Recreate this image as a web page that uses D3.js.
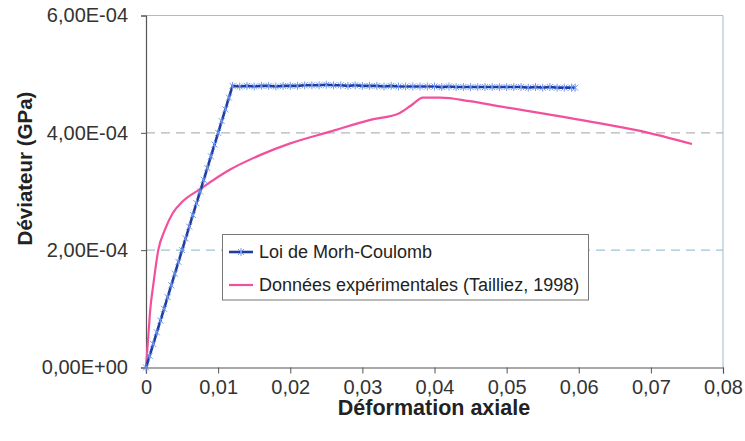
<!DOCTYPE html>
<html><head><meta charset="utf-8">
<script src="https://cdn.jsdelivr.net/npm/d3@7"></script>
<style>body{margin:0;background:#fff}svg{display:block}text{font-family:"Liberation Sans",Arial,sans-serif}</style>
</head><body>
<svg id="c" width="745" height="441"></svg>
<script>
// Values (stress in units of 1E-4 GPa)
const mcStrain = [0,0.0005,0.001,0.0015,0.002,0.0025,0.003,0.0035,0.004,0.0045,0.005,0.0055,0.006,0.0065,0.007,0.0075,0.008,0.0085,0.009,0.0095,0.01,0.0105,0.011,0.0115,0.012,
  0.013,0.014,0.015,0.016,0.017,0.018,0.019,0.02,0.021,0.022,0.023,0.024,0.025,0.026,0.027,0.028,0.029,0.03,0.031,0.032,0.033,0.034,0.035,0.036,0.037,0.038,0.039,0.04,0.041,0.042,0.043,0.044,0.045,0.046,0.047,0.048,0.049,0.05,0.051,0.052,0.053,0.054,0.055,0.056,0.057,0.058,0.059,0.0595];
const mcStress = [0,0.2,0.4,0.6,0.8,1.0,1.2,1.4,1.6,1.8,2.0,2.2,2.4,2.6,2.8,3.0,3.2,3.4,3.6,3.8,4.0,4.2,4.4,4.6,4.8,
  4.79,4.80,4.79,4.80,4.80,4.79,4.80,4.80,4.80,4.81,4.81,4.81,4.82,4.81,4.81,4.80,4.81,4.80,4.80,4.80,4.79,4.80,4.79,4.79,4.79,4.79,4.79,4.79,4.78,4.79,4.78,4.78,4.78,4.78,4.78,4.78,4.78,4.78,4.78,4.78,4.77,4.78,4.77,4.78,4.77,4.77,4.77,4.77];
const expStrain = [0,0.0003,0.0006,0.001,0.0017,0.0026,0.0037,0.005,0.0075,0.0116,0.0158,0.02,0.0255,0.0311,0.0352,0.0368,0.0384,0.0408,0.0449,0.0491,0.056,0.063,0.0697,0.0757];
const expStress = [0,0.5,1.0,1.4,2.0,2.34,2.63,2.82,3.04,3.37,3.62,3.82,4.02,4.22,4.34,4.47,4.60,4.60,4.54,4.45,4.31,4.16,4.00,3.81];
const xTicks = [0,0.01,0.02,0.03,0.04,0.05,0.06,0.07,0.08];
const yTicks = [0,2e-4,4e-4,6e-4];
const seriesNames = ["Loi de Morh-Coulomb","Données expérimentales (Tailliez, 1998)"];
const xTitle = "Déformation axiale";
const yTitle = "Déviateur (GPa)";

const svg = d3.select("#c");
const L=146,R=723,T=15.5,B=367.5;
const x = d3.scaleLinear().domain([0,0.08]).range([L,R]);
const y = d3.scaleLinear().domain([0,6e-4]).range([B,T]);
const fmtX = d => d===0 ? "0" : d3.format(".2f")(d).replace(".",",");
const fmtY = d => {
  if (d===0) return "0,00E+00";
  const e = Math.floor(Math.log10(d)+1e-9);
  const m = d/Math.pow(10,e);
  return m.toFixed(2).replace(".",",")+"E"+(e<0?"-":"+")+String(Math.abs(e)).padStart(2,"0");
};

// frame
svg.append("line").attr("x1",L).attr("x2",R).attr("y1",T).attr("y2",T).attr("stroke","#b8b8b8").attr("stroke-width",1.2);
svg.append("line").attr("x1",R).attr("x2",R).attr("y1",T).attr("y2",B).attr("stroke","#b4c2d0").attr("stroke-width",1.2);
// gridlines
const gridCol = {2e-4:"#9cc4d6",4e-4:"#b5b5b5"};
[2e-4,4e-4].forEach(v=>{
  svg.append("line").attr("x1",L).attr("x2",R).attr("y1",y(v)).attr("y2",y(v))
    .attr("stroke",gridCol[v]).attr("stroke-width",1.4).attr("stroke-dasharray","9,6");
});

// axes
const ya = svg.append("g").attr("transform",`translate(${L},0)`)
  .call(d3.axisLeft(y).tickValues(yTicks).tickFormat(fmtY).tickSize(5).tickPadding(13));
ya.select(".domain").attr("stroke","#555").attr("stroke-width",1.2);
ya.selectAll(".tick line").attr("stroke","#555");
ya.selectAll("text").attr("font-size",20).attr("fill","#333");
const xa = svg.append("g").attr("transform",`translate(0,${B})`)
  .call(d3.axisBottom(x).tickValues(xTicks).tickFormat(fmtX).tickSize(6).tickPadding(6));
xa.select(".domain").attr("stroke","#555").attr("stroke-width",1.2);
xa.selectAll(".tick line").attr("stroke","#555");
xa.selectAll("text").attr("font-size",20).attr("fill","#333");

svg.append("text").attr("x",434).attr("y",415).attr("text-anchor","middle")
  .attr("font-size",21.5).attr("font-weight","bold").attr("fill","#222").text(xTitle);
svg.append("text").attr("transform","translate(24,168.5) rotate(-90)").attr("text-anchor","middle")
  .attr("dominant-baseline","central")
  .attr("font-size",20.5).attr("font-weight","bold").attr("fill","#222").text(yTitle);

// series
const mc = mcStrain.map((s,i)=>[s,mcStress[i]*1e-4]);
const ex = expStrain.map((s,i)=>[s,expStress[i]*1e-4]);
const line = d3.line().x(d=>x(d[0])).y(d=>y(d[1]));
const lineSmooth = d3.line().x(d=>x(d[0])).y(d=>y(d[1])).curve(d3.curveMonotoneX);

svg.append("path").datum(ex).attr("d",lineSmooth).attr("fill","none").attr("stroke","#f2509c").attr("stroke-width",2.2);
svg.append("path").datum(mc).attr("d",line).attr("fill","none").attr("stroke","#1f3c9e").attr("stroke-width",2.6);

function star(g,cx,cy,r){
  g.append("path").attr("d",`M${cx-r},${cy-r}L${cx+r},${cy+r}M${cx-r},${cy+r}L${cx+r},${cy-r}M${cx},${cy-r-1}L${cx},${cy+r+1}`)
   .attr("stroke","#7199f0").attr("stroke-width",1).attr("fill","none");
}
const mk = svg.append("g");
mc.forEach(d=>star(mk,x(d[0]),y(d[1]),3));

// legend
const lg = svg.append("g");
lg.append("rect").attr("x",222.5).attr("y",234.5).attr("width",366).attr("height",65.5)
  .attr("fill","#fff").attr("stroke","#777").attr("stroke-width",1);
lg.append("line").attr("x1",229).attr("x2",253).attr("y1",252).attr("y2",252).attr("stroke","#1f3c9e").attr("stroke-width",2.6);
star(lg,241,252,3);
lg.append("line").attr("x1",229).attr("x2",253).attr("y1",285).attr("y2",285).attr("stroke","#f2509c").attr("stroke-width",2.2);
lg.append("text").attr("x",259).attr("y",258).attr("font-size",18).attr("fill","#222").text(seriesNames[0]);
lg.append("text").attr("x",259).attr("y",290.5).attr("font-size",18).attr("fill","#222").text(seriesNames[1]);
</script>
</body></html>
